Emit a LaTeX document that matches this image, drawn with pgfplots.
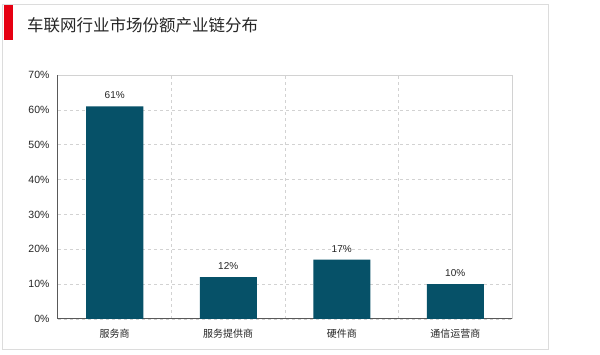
\documentclass[border=0pt]{standalone}
\usepackage{fontspec}
\setmainfont{Liberation Sans}
\newfontfamily\cjk{Noto Sans CJK SC}
\usepackage{pgfplots}
\pgfplotsset{compat=1.18}
\definecolor{barc}{RGB}{6,81,104}
\definecolor{axc}{RGB}{89,89,89}
\definecolor{gridc}{RGB}{210,210,210}
\definecolor{framec}{RGB}{220,220,220}
\definecolor{titred}{RGB}{230,0,18}
\begin{document}
\begin{tikzpicture}[x=1pt,y=1pt]
\fill[white] (0,0) rectangle (600,355);
\path[use as bounding box] (0,0) rectangle (600,355);
\draw[framec, line width=1pt] (2,5) rectangle (548,350);
\fill[titred] (4,315) rectangle (13,350);
\node[anchor=west, inner sep=0pt, font=\cjk\fontsize{16.5}{18}\selectfont, text=black!85] at (27,330) {车联网行业市场份额产业链分布};
\begin{axis}[
  at={(58pt,36pt)}, anchor=south west,
  scale only axis, width=454pt, height=244pt,
  xmin=-0.5, xmax=3.5, ymin=0, ymax=70,
  axis x line*=bottom, axis y line*=left,
  axis line style={-, axc, line width=1pt},
  xtick={0,1,2,3},
  xticklabels={服务商,服务提供商,硬件商,通信运营商},
  xticklabel style={font=\cjk\fontsize{10}{12}\selectfont, text=black!85, yshift=-7pt},
  minor xtick={0.5,1.5,2.5},
  ytick={0,10,...,70},
  yticklabel={\pgfmathprintnumber{\tick}\%},
  yticklabel style={font=\fontsize{10.5}{12}\selectfont, text=black!85, xshift=-5pt},
  /pgf/number format/assume math mode=true,
  major tick length=0pt, minor tick length=0pt,
  ymajorgrids, xminorgrids,
  major grid style={gridc, dashed, line width=0.6pt},
  minor grid style={gridc, dashed, line width=0.6pt},
  ybar, bar width=57pt,
  nodes near coords={\pgfmathprintnumber{\pgfplotspointmeta}\%},
  nodes near coords style={font=\fontsize{10}{12}\selectfont, text=black!85, yshift=4pt},
  clip=false,
]
\addplot[fill=barc, draw=none] coordinates {(0,61) (1,12) (2,17) (3,10)};
\draw[gridc, line width=0.7pt] (axis cs:-0.5,70) -- (axis cs:3.5,70) -- (axis cs:3.5,0);
\end{axis}
\end{tikzpicture}
\end{document}
